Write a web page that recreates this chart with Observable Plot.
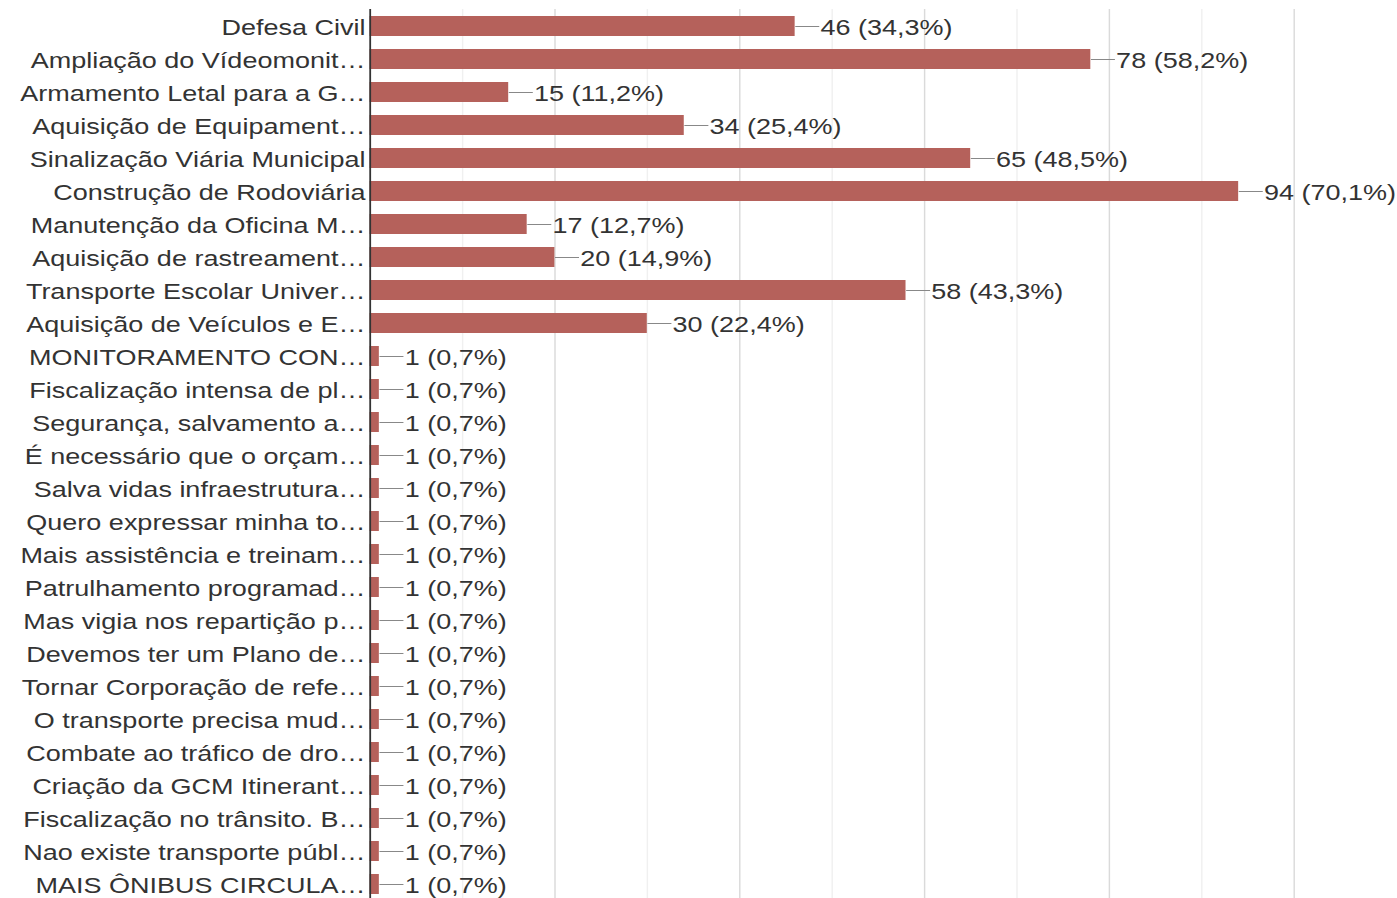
<!DOCTYPE html>
<html>
<head>
<meta charset="utf-8">
<script src="https://cdn.jsdelivr.net/npm/d3@7"></script>
<script src="https://cdn.jsdelivr.net/npm/@observablehq/plot@0.6"></script>
<style>
html, body { margin: 0; padding: 0; background: #fff; overflow: hidden; }
#chart { width: 1397px; height: 898px; overflow: hidden; }
#chart svg { transform: scale(1.2, 1); transform-origin: 0 0; display: block; }
</style>
</head>
<body>
<div id="chart"></div>
<script>
const categories = [
  "Defesa Civil",
  "Ampliação do Vídeomonit…",
  "Armamento Letal para a G…",
  "Aquisição de Equipament…",
  "Sinalização Viária Municipal",
  "Construção de Rodoviária",
  "Manutenção da Oficina M…",
  "Aquisição de rastreament…",
  "Transporte Escolar Univer…",
  "Aquisição de Veículos e E…",
  "MONITORAMENTO CON…",
  "Fiscalização intensa de pl…",
  "Segurança, salvamento a…",
  "É necessário que o orçam…",
  "Salva vidas infraestrutura…",
  "Quero expressar minha to…",
  "Mais assistência e treinam…",
  "Patrulhamento programad…",
  "Mas vigia nos repartição p…",
  "Devemos ter um Plano de…",
  "Tornar Corporação de refe…",
  "O transporte precisa mud…",
  "Combate ao tráfico de dro…",
  "Criação da GCM Itinerant…",
  "Fiscalização no trânsito. B…",
  "Nao existe transporte públ…",
  "MAIS ÔNIBUS CIRCULA…"
];
const counts = [46, 78, 15, 34, 65, 94, 17, 20, 58, 30,
  1, 1, 1, 1, 1, 1, 1, 1, 1, 1, 1, 1, 1, 1, 1, 1, 1];
const percents = ["34,3", "58,2", "11,2", "25,4", "48,5", "70,1", "12,7", "14,9", "43,3", "22,4",
  "0,7", "0,7", "0,7", "0,7", "0,7", "0,7", "0,7", "0,7", "0,7", "0,7", "0,7", "0,7", "0,7", "0,7", "0,7", "0,7", "0,7"];
const majorTicks = [20, 40, 60, 80, 100];
const minorTicks = [10, 30, 50, 70, 90];

const data = categories.map((c, i) => ({label: c, value: counts[i], pct: percents[i]}));

// horizontal connector drawn from the bar end
const connector = {draw(ctx) { ctx.moveTo(0, 0); ctx.lineTo(20, 0); }};

const chart = Plot.plot({
  width: 1164,
  height: 898,
  marginLeft: 308,
  marginRight: 86,
  marginTop: 9,
  marginBottom: 0,
  x: {domain: [0, 100], axis: null},
  y: {domain: categories, range: [2.4, 906.6], padding: 0.4},
  style: {fontFamily: "'Liberation Sans', Arial, sans-serif", fontSize: "22.5px", color: "#333", background: "#fff"},
  marks: [
    Plot.ruleX(minorTicks, {stroke: "#f0f0f0", strokeWidth: 1.2}),
    Plot.ruleX(majorTicks, {stroke: "#dadada", strokeWidth: 1.2}),
    Plot.barX(data, {x: "value", y: "label", fill: "#b5615b"}),
    Plot.dot(data, {x: "value", y: "label", symbol: connector, stroke: "#888", fill: "none", strokeWidth: 1}),
    Plot.text(data, {x: "value", y: "label", text: d => `${d.value} (${d.pct}%)`, textAnchor: "start", dx: 21, dy: 1.5, fill: "#333", fontSize: 22.5}),
    Plot.ruleX([0], {stroke: "#333", strokeWidth: 1.5}),
    Plot.axisY({tickSize: 0, tickPadding: 4, label: null, fontSize: 22.5, dy: 1.5, fill: "#333"})
  ]
});
document.getElementById("chart").appendChild(chart);
</script>
</body>
</html>
